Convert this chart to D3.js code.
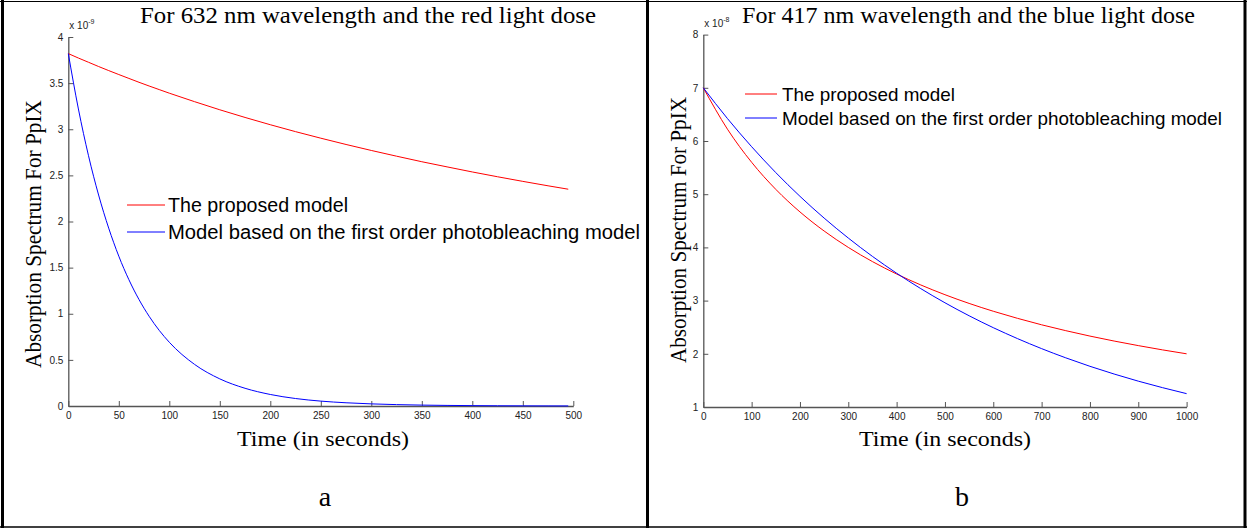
<!DOCTYPE html>
<html><head><meta charset="utf-8">
<script src="https://cdn.jsdelivr.net/npm/d3@7"></script>
<style>body{margin:0;background:#fff}svg{display:block}</style>
</head><body>
<svg id="c" width="1247" height="528"></svg>
<script>
// ---- data ----
const timeA = [0,10,20,30,40,50,60,70,80,90,100,125,150,175,200,225,250,275,300,325,350,375,400,425,450,475,495];
const redA  = [3.820,3.772,3.726,3.680,3.636,3.593,3.551,3.509,3.469,3.430,3.391,3.299,3.211,3.128,3.049,2.974,2.903,2.835,2.770,2.708,2.648,2.592,2.537,2.485,2.435,2.387,2.350];
const blueA = [3.820,3.220,2.713,2.287,1.928,1.624,1.369,1.154,0.973,0.820,0.691,0.451,0.294,0.192,0.125,0.081,0.053,0.035,0.023,0.015,0.0097,0.0063,0.0041,0.0027,0.0017,0.0011,0.0008];

const timeB = [0,50,100,150,200,250,300,350,400,450,500,550,600,650,700,750,800,850,900,950,1000];
const redB  = [7.000,6.222,5.600,5.091,4.667,4.308,4.000,3.733,3.500,3.294,3.111,2.947,2.800,2.667,2.545,2.435,2.333,2.240,2.154,2.074,2.000];
const blueB = [7.000,6.422,5.893,5.406,4.960,4.551,4.176,3.831,3.515,3.225,2.959,2.715,2.491,2.286,2.097,1.924,1.765,1.620,1.486,1.364,1.251];

const xTicksA = [0,50,100,150,200,250,300,350,400,450,500];
const yTicksA = [0,0.5,1,1.5,2,2.5,3,3.5,4];
const xTicksB = [0,100,200,300,400,500,600,700,800,900,1000];
const yTicksB = [1,2,3,4,5,6,7,8];

const seriesNames = ["The proposed model","Model based on the first order photobleaching model"];
const seriesColors = ["#ff0000","#0000ff"];
const titles = ["For 632 nm wavelength and the red light dose","For 417 nm wavelength and the blue light dose"];
const xLabel = "Time (in seconds)";
const yLabel = "Absorption Spectrum For PpIX";
const panelLabels = ["a","b"];
const exponents = ["-9","-8"];

// ---- layout ----
const svg = d3.select("#c");
const SERIF = "'Liberation Serif','Times New Roman',serif";
const SANS = "'Liberation Sans',Arial,Helvetica,sans-serif";

// table borders
const border = svg.append("g").attr("stroke","#000").attr("fill","none");
border.append("line").attr("x1",2.5).attr("x2",2.5).attr("y1",0).attr("y2",528).attr("stroke-width",3);
border.append("line").attr("x1",647.5).attr("x2",647.5).attr("y1",0).attr("y2",528).attr("stroke-width",3);
border.append("line").attr("x1",1245).attr("x2",1245).attr("y1",0).attr("y2",528).attr("stroke-width",3);
border.append("line").attr("x1",0).attr("x2",1247).attr("y1",1.5).attr("y2",1.5).attr("stroke-width",1);
border.append("line").attr("x1",0).attr("x2",1247).attr("y1",527).attr("y2",527).attr("stroke-width",1.5);

const panels = [
  {time:timeA, red:redA, blue:blueA, xDom:[0,500], yDom:[0,4], xR:[68.3,573.3], yR:[406,37],
   xt:xTicksA, yt:yTicksA, yfmt:d=>String(d),
   title:{x:140,y:23,w:456}, legend:{x1:127,x2:165,tx:168,y:[205,232],fs:20,w:[180,472]},
   ylab:{x:41,cy:234,len:268}, xlab:{cx:323,y:446,w:172}, pl:{x:325,y:506}},
  {time:timeB, red:redB, blue:blueB, xDom:[0,1000], yDom:[1,8], xR:[703.3,1186.6], yR:[407,34.6],
   xt:xTicksB, yt:yTicksB, yfmt:d=>String(d),
   title:{x:742,y:23,w:453}, legend:{x1:745,x2:777,tx:782,y:[94,118],fs:19,w:[173,440]},
   ylab:{x:686,cy:230,len:266}, xlab:{cx:945,y:446,w:172}, pl:{x:962,y:506}}
];

panels.forEach((p,i)=>{
  const g = svg.append("g");
  const x = d3.scaleLinear().domain(p.xDom).range(p.xR);
  const y = d3.scaleLinear().domain(p.yDom).range(p.yR);

  // axes (Matlab style: inward ticks, no box)
  const xa = g.append("g").attr("transform",`translate(0,${p.yR[0]})`)
    .call(d3.axisBottom(x).tickValues(p.xt).tickSizeInner(-5).tickSizeOuter(0).tickPadding(6).tickFormat(d=>String(d)));
  const ya = g.append("g").attr("transform",`translate(${p.xR[0]},0)`)
    .call(d3.axisLeft(y).tickValues(p.yt).tickSizeInner(-5).tickSizeOuter(0).tickPadding(5).tickFormat(p.yfmt));
  [xa,ya].forEach(a=>{
    a.select(".domain").attr("stroke","#555").attr("stroke-width",1.3);
    a.selectAll(".tick line").attr("stroke","#555").attr("stroke-width",1);
    a.selectAll(".tick text").attr("fill","#222").attr("font-family",SANS).attr("font-size",10);
  });

  // exponent label
  const ex = g.append("text").attr("x",p.xR[0]+1).attr("y",p.yR[1]-8)
    .attr("font-family",SANS).attr("font-size",10).attr("fill","#222");
  ex.append("tspan").text("x 10");
  ex.append("tspan").attr("dy",-5).attr("font-size",7).text(exponents[i]);

  // lines
  const line = d3.line().x(d=>x(d[0])).y(d=>y(d[1])).curve(d3.curveMonotoneX);
  [p.red,p.blue].forEach((vals,k)=>{
    g.append("path").datum(p.time.map((t,j)=>[t,vals[j]]))
      .attr("fill","none").attr("stroke",seriesColors[k]).attr("stroke-width",1).attr("d",line);
  });

  // legend
  seriesNames.forEach((name,k)=>{
    const ly = p.legend.y[k];
    g.append("line").attr("x1",p.legend.x1).attr("x2",p.legend.x2).attr("y1",ly).attr("y2",ly)
      .attr("stroke",seriesColors[k]).attr("stroke-width",1);
    g.append("text").attr("x",p.legend.tx).attr("y",ly+p.legend.fs*0.36)
      .attr("font-family",SANS).attr("font-size",p.legend.fs).attr("fill","#000")
      .attr("textLength",p.legend.w[k]).attr("lengthAdjust","spacingAndGlyphs").text(name);
  });

  // title
  g.append("text").attr("x",p.title.x).attr("y",p.title.y)
    .attr("font-family",SERIF).attr("font-size",24).attr("fill","#000")
    .attr("textLength",p.title.w).attr("lengthAdjust","spacingAndGlyphs").text(titles[i]);

  // y label
  g.append("text").attr("transform",`translate(${p.ylab.x},${p.ylab.cy}) rotate(-90)`)
    .attr("text-anchor","middle").attr("font-family",SERIF).attr("font-size",24).attr("fill","#000")
    .attr("textLength",p.ylab.len).attr("lengthAdjust","spacingAndGlyphs").text(yLabel);

  // x label
  g.append("text").attr("x",p.xlab.cx).attr("y",p.xlab.y).attr("text-anchor","middle")
    .attr("font-family",SERIF).attr("font-size",22).attr("fill","#000")
    .attr("textLength",p.xlab.w).attr("lengthAdjust","spacingAndGlyphs").text(xLabel);

  // panel label
  g.append("text").attr("x",p.pl.x).attr("y",p.pl.y).attr("text-anchor","middle")
    .attr("font-family",SERIF).attr("font-size",28).attr("fill","#000").text(panelLabels[i]);
});
</script>
</body></html>
